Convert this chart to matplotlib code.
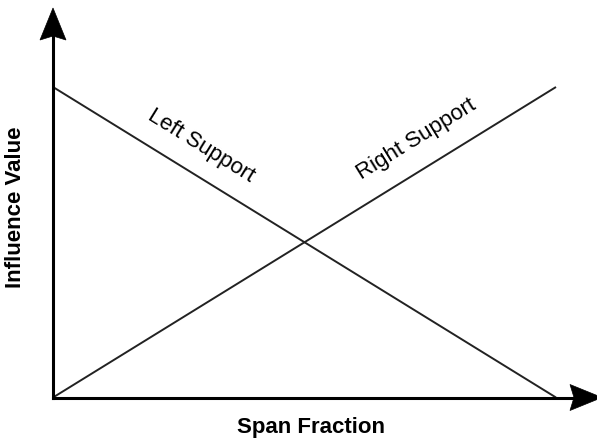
import numpy as np
import matplotlib
matplotlib.use("Agg")
import matplotlib.pyplot as plt
import matplotlib.transforms as mtransforms
from matplotlib.patches import Polygon

plt.rcParams['font.family'] = ['Liberation Sans', 'DejaVu Sans']

span = [0.0, 1.0]
left_support = [1.0, 0.0]
right_support = [0.0, 1.0]
x_label = "Span Fraction"
y_label = "Influence Value"
line_labels = ["Left Support", "Right Support"]

W, H = 597, 441
fig = plt.figure(figsize=(W / 100, H / 100), dpi=100)
x0, y0 = 53, 397.5        # origin pixel
x1, y1 = 556, 87          # data 1 pixel
ax = fig.add_axes([x0 / W, (H - y0) / H, (W - x0) / W, (y0 - 8) / H])
sx = x1 - x0
sy = y0 - y1
xmax = (W - x0) / sx
ymax = (y0 - 8) / sy
ax.set_xlim(0, xmax)
ax.set_ylim(0, ymax)
ax.axis('off')

ax.plot(span, left_support, color='#222222', lw=1.4, solid_capstyle='butt')
ax.plot(span, right_support, color='#222222', lw=1.4, solid_capstyle='butt')

# axes with notched arrow heads (sizes in pixels)
head_len, head_half, notch = 32, 13, 4
x_tip = (602 - x0) / sx
y_tip = ymax
ax.plot([0, x_tip - (head_len - notch) / sx], [0, 0], color='black', lw=2.2,
        clip_on=False, solid_capstyle='projecting')
ax.plot([0, 0], [0, y_tip - (head_len - notch) / sy], color='black', lw=2.2,
        clip_on=False, solid_capstyle='projecting')

def head(tx, ty, direction):
    pts = np.array([[0, 0], [-head_len, head_half], [-(head_len - notch), 0],
                    [-head_len, -head_half]], dtype=float) / 100.0
    if direction == 'up':
        pts = pts[:, ::-1].copy()
    tr = fig.dpi_scale_trans + mtransforms.ScaledTranslation(tx, ty, ax.transData)
    ax.add_patch(Polygon(pts, closed=True, transform=tr, facecolor='black',
                         edgecolor='black', lw=0.5, clip_on=False))

head(x_tip, 0, 'right')
head(0, y_tip, 'up')

ang = np.degrees(np.arctan2(sy, sx))
ax.text(0.294, 0.810, line_labels[0], rotation=-ang, rotation_mode='anchor',
        ha='center', va='center', fontsize=16, color='black')
ax.text(0.722, 0.833, line_labels[1], rotation=ang, rotation_mode='anchor',
        ha='center', va='center', fontsize=16, color='black')

fig.text(311 / W, 1 - 428 / H, x_label, ha='center', va='center', fontsize=16,
         fontweight='bold')
fig.text(16 / W, 1 - 207 / H, y_label, ha='center', va='center', fontsize=16,
         fontweight='bold', rotation=90)

fig.savefig('out.png', dpi=100)
